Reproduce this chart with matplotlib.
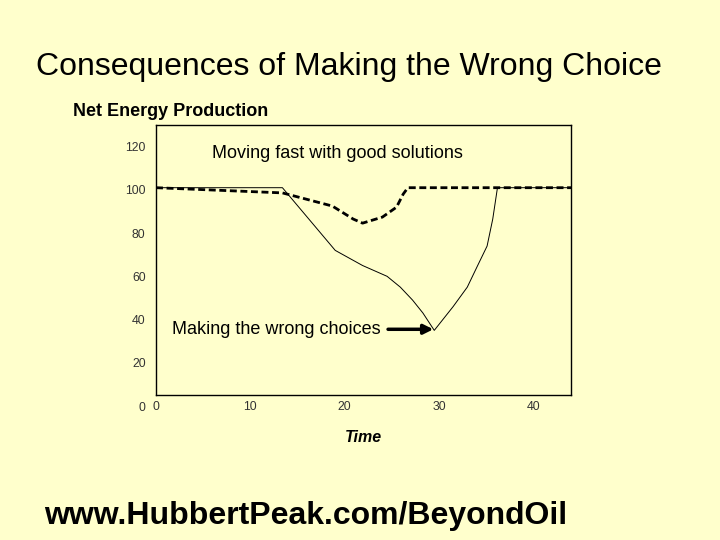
import matplotlib.pyplot as plt

# ---------------------------------------------------------
# Data
# ---------------------------------------------------------

# "Making the wrong choices" (thin solid line)
wrong_t = [0, 13.4, 19.0, 21.9, 24.5, 25.9, 27.2, 28.3, 29.5, 31.5, 33.0, 34.1, 35.1, 35.7, 36.2, 44]
wrong_e = [101, 101, 72, 65, 60, 55, 49, 43, 35, 46, 55, 65, 74, 86.5, 101, 101]

# "Moving fast with good solutions" (thick dashed line)
good_t = [0, 13.4, 18.7, 20.9, 21.9, 24.0, 25.5, 26.2, 26.7, 44]
good_e = [101, 98.6, 92.5, 86.5, 84.6, 87.4, 92, 98, 101, 101]

x_ticks = [0, 10, 20, 30, 40]
y_ticks = [0, 20, 40, 60, 80, 100, 120]

bg = "#FFFFCC"

# ---------------------------------------------------------
# Figure
# ---------------------------------------------------------

plt.rcParams['font.family'] = ['Liberation Sans', 'DejaVu Sans']

fig = plt.figure(figsize=(7.2, 5.4), dpi=100, facecolor=bg)
ax = fig.add_axes([0.2167, 0.2481, 0.5764, 0.5204])
ax.set_facecolor(bg)

ax.plot(wrong_t, wrong_e, color="black", linewidth=0.7)
ax.plot(good_t, good_e, color="black", linewidth=2.0, linestyle=(0, (2.5, 1.3)))

ax.set_xlim(0, 44)
ax.set_ylim(0, 130)

# box starts at 5 so the "0" label sits on the x tick row
ax.spines['bottom'].set_position(('data', 5))
ax.spines['left'].set_bounds(5, 130)
ax.spines['right'].set_bounds(5, 130)
for s in ax.spines.values():
    s.set_linewidth(1.0)

ax.set_xticks(x_ticks)
ax.set_yticks(y_ticks)
ax.tick_params(length=0, labelsize=8.8, colors="#333333")
ax.tick_params(axis='x', pad=4.5)
ax.tick_params(axis='y', pad=7.5)

ax.text(0.135, 0.9, "Moving fast with good solutions", transform=ax.transAxes,
        fontsize=13, color="black", va="center", ha="left")
ax.text(1.7, 35.5, "Making the wrong choices", fontsize=13,
        va="center", ha="left")
ax.annotate("", xy=(29.4, 35.5), xytext=(24.6, 35.5),
            arrowprops=dict(arrowstyle="-|>", color="black", lw=2.5,
                            mutation_scale=14, shrinkA=0, shrinkB=0))

ax.set_xlabel("Time", fontsize=11.5, fontweight="bold", fontstyle="italic", labelpad=12)

fig.text(0.484, 0.876, "Consequences of Making the Wrong Choice",
         fontsize=23, ha="center", va="center")
fig.text(0.101, 0.793, "Net Energy Production", fontsize=13,
         fontweight="bold", ha="left", va="center")
fig.text(0.061, 0.045, "www.HubbertPeak.com/BeyondOil", fontsize=23,
         fontweight="bold", ha="left", va="center")

fig.savefig("out.png", dpi=100, facecolor=bg)
